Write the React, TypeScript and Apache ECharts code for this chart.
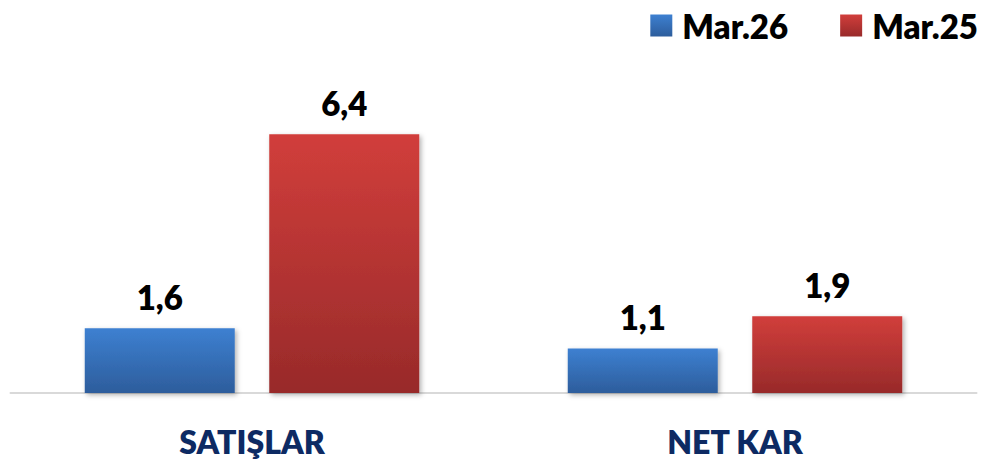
import React, { useEffect, useRef } from "react";
import * as echarts from "echarts";

const categories = ["SATIŞLAR", "NET KAR"];
const seriesNames = ["Mar.26", "Mar.25"];
const mar26 = [1.6, 1.1];
const mar25 = [6.4, 1.9];

const FONT = "Lato";
const WEIGHT = 800;

function grad(top: string, bottom: string) {
  return new echarts.graphic.LinearGradient(0, 0, 0, 1, [
    { offset: 0, color: top },
    { offset: 1, color: bottom },
  ]);
}

export default function App() {
  const ref = useRef<HTMLDivElement>(null);
  useEffect(() => {
    if (!ref.current) return;
    const chart = echarts.init(ref.current, null, { renderer: "svg" });
    const label = {
      show: true,
      position: "top",
      distance: 15,
      fontFamily: FONT,
      fontWeight: WEIGHT,
      fontSize: 33,
      color: "#000000",
      formatter: (p: any) => Number(p.value).toFixed(1).replace(".", ","),
    };
    const shadow = {
      shadowBlur: 5,
      shadowColor: "rgba(0,0,0,0.3)",
      shadowOffsetX: 2,
      shadowOffsetY: 2,
    };
    chart.setOption({
      animation: false,
      legend: {
        right: 4,
        top: 4,
        itemWidth: 22,
        itemHeight: 22,
        itemGap: 52,
        icon: "rect",
        textStyle: {
          fontFamily: FONT,
          fontWeight: WEIGHT,
          fontSize: 33,
          color: "#000000",
          padding: [0, 0, 0, 5],
        },
        data: seriesNames,
      },
      grid: { left: 10.5, right: 10.5, top: 110, bottom: 72 },
      xAxis: {
        type: "category",
        data: categories,
        axisLine: { show: true, lineStyle: { color: "#d9d9d9", width: 2 } },
        axisTick: { show: false },
        axisLabel: {
          margin: 32,
          fontFamily: FONT,
          fontWeight: WEIGHT,
          fontSize: 32,
          color: "#0d2a63",
        },
      },
      yAxis: {
        type: "value",
        min: 0,
        max: 7,
        show: false,
        splitLine: { show: false },
      },
      series: [
        {
          name: seriesNames[0],
          type: "bar",
          data: mar26,
          barWidth: 150,
          barGap: "23%",
          itemStyle: { color: grad("#3d80d1", "#2d5d9c"), ...shadow },
          label,
        },
        {
          name: seriesNames[1],
          type: "bar",
          data: mar25,
          barWidth: 150,
          barGap: "23%",
          itemStyle: { color: grad("#d13e3b", "#982a2a"), ...shadow },
          label,
        },
      ],
    });
    return () => chart.dispose();
  }, []);
  return (
    <div
      ref={ref}
      style={{ position: "fixed", left: 0, top: 0, width: 987, height: 465, background: "#ffffff" }}
    />
  );
}
